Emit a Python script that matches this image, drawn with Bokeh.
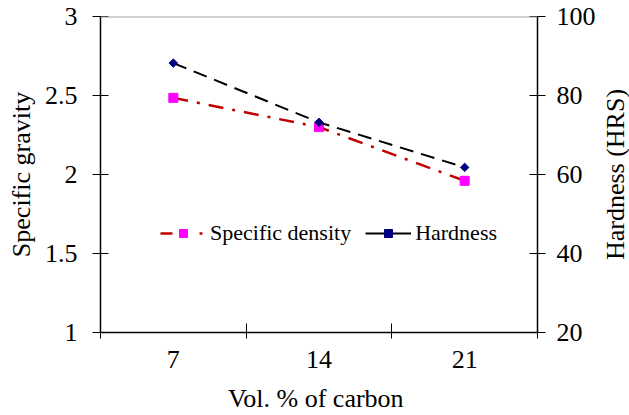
import math
from bokeh.plotting import figure
from bokeh.layouts import row
from bokeh.models import (Range1d, LinearAxis, FixedTicker, Span, Legend, LegendItem,
                          ColumnDataSource)
from bokeh.core.properties import value
from bokeh.embed import file_html
from bokeh.resources import INLINE

# ---- data ----
carbon = [7, 14, 21]
carbon_labels = ["7", "14", "21"]
specific_density = [2.485, 2.30, 1.96]
hardness = [88.2, 73.2, 61.8]
left_ticks = [1, 1.5, 2, 2.5, 3]
left_tick_labels = ["1", "1.5", "2", "2.5", "3"]
right_ticks = [20, 40, 60, 80, 100]
category_edges = [3.5, 10.5, 17.5, 24.5]
x_title = "Vol.  % of carbon"
left_title = "Specific gravity"
right_title = "Hardness (HRS)"

FONT = "Liberation Serif"
MT, MB = 16, 83

p = figure(width=598, height=415, output_backend="svg", toolbar_location=None,
           x_range=Range1d(3.5, 24.5), y_range=Range1d(1, 3),
           min_border_left=100, min_border_right=59, min_border_top=MT,
           min_border_bottom=MB)
p.outline_line_color = None
p.background_fill_color = "white"
p.border_fill_color = "white"
p.xgrid.visible = False
p.ygrid.visible = False
p.extra_y_ranges = {"hard": Range1d(20, 100)}

# top gray line
p.add_layout(Span(location=3, dimension="width", line_color="#A6A6A6", line_width=2))

# x axis
xa = p.xaxis[0]
xa.ticker = FixedTicker(ticks=carbon, minor_ticks=category_edges)
xa.major_label_overrides = {c: l for c, l in zip(carbon, carbon_labels)}
xa.major_tick_line_color = None
xa.minor_tick_line_color = "black"
xa.minor_tick_in = 9
xa.minor_tick_out = 6
xa.minor_tick_line_width = 1
xa.axis_line_color = "black"
xa.axis_line_width = 1.5
xa.axis_label = x_title
xa.major_label_text_font = FONT
xa.major_label_text_font_size = "26px"
xa.major_label_text_color = "black"
xa.major_label_standoff = 12
xa.axis_label_text_font = FONT
xa.axis_label_text_font_size = "26px"
xa.axis_label_text_font_style = "normal"
xa.axis_label_text_color = "black"
xa.axis_label_standoff = 13

# left axis
ya = p.yaxis[0]
ya.ticker = FixedTicker(ticks=left_ticks, minor_ticks=[])
ya.major_label_overrides = {t: l for t, l in zip(left_ticks, left_tick_labels)}
ya.major_tick_in = 8
ya.major_tick_out = 8
ya.major_tick_line_color = "black"
ya.axis_line_color = "black"
ya.axis_line_width = 1.5
ya.axis_label = left_title
ya.major_label_text_font = FONT
ya.major_label_text_font_size = "26px"
ya.major_label_text_color = "black"
ya.major_label_standoff = 15
ya.axis_label_text_font = FONT
ya.axis_label_text_font_size = "26px"
ya.axis_label_text_font_style = "normal"
ya.axis_label_text_color = "black"
ya.axis_label_standoff = 6

# right axis (ticks and labels; its title is drawn in the side strip)
ra = LinearAxis(y_range_name="hard", ticker=FixedTicker(ticks=right_ticks, minor_ticks=[]))
ra.major_tick_in = 8
ra.major_tick_out = 8
ra.major_tick_line_color = "black"
ra.axis_line_color = "black"
ra.axis_line_width = 1.5
ra.major_label_text_font = FONT
ra.major_label_text_font_size = "26px"
ra.major_label_text_color = "black"
ra.major_label_standoff = 11
p.add_layout(ra, "right")

# series
RED = "#C00000"
p.line(carbon, specific_density, line_color=RED, line_width=2.5, line_dash="15 9 3 9")
p.scatter(carbon, specific_density, marker="square", size=9, fill_color="#FF00FF",
          line_color="#FF00FF")
p.line(carbon, hardness, y_range_name="hard", line_color="black", line_width=2,
       line_dash="14 8")
p.scatter(carbon, hardness, y_range_name="hard", marker="square", angle=0.785398,
          size=6, fill_color="#000080", line_color="#000080")

# legend proxies
nan_src = ColumnDataSource(dict(x=carbon[:1], y=[float("nan")]))
lg_r1 = p.line("x", "y", source=nan_src, line_color=RED, line_width=2.5,
               line_dash="12 27 3 30")
lg_r2 = p.scatter("x", "y", source=nan_src, marker="square", size=9,
                  fill_color="#FF00FF", line_color="#FF00FF")
lg_h1 = p.line("x", "y", source=nan_src, line_color="black", line_width=2)
lg_h2 = p.scatter("x", "y", source=nan_src, marker="square", angle=0.785398, size=6,
                  fill_color="#000080", line_color="#000080")

legend = Legend(items=[LegendItem(label="Specific density", renderers=[lg_r1, lg_r2]),
                       LegendItem(label="Hardness", renderers=[lg_h1, lg_h2])],
                orientation="horizontal", location=(60, 86),
                glyph_width=46, glyph_height=20, label_standoff=4, spacing=14,
                padding=0, margin=0, border_line_color=None, background_fill_alpha=0,
                label_text_font=FONT, label_text_font_size="22px",
                label_text_color="black")
p.add_layout(legend, "center")

# side strip holding the right-hand axis title (reads bottom to top)
s = figure(width=31, height=415, output_backend="svg", toolbar_location=None,
           x_range=Range1d(0, 1), y_range=Range1d(0, 1),
           x_axis_type=None, y_axis_type=None,
           min_border_left=0, min_border_right=0, min_border_top=MT,
           min_border_bottom=MB)
s.outline_line_color = None
s.xgrid.visible = False
s.ygrid.visible = False
s.background_fill_color = "white"
s.border_fill_color = "white"
s.text(x=[0.55], y=[0.5], text=[right_title], angle=math.pi / 2,
       text_align="center", text_baseline="middle", text_font=value(FONT),
       text_font_size="26px", text_color="black")

layout = row(p, s, spacing=0)
open("out.html", "w").write(file_html(layout, INLINE))
